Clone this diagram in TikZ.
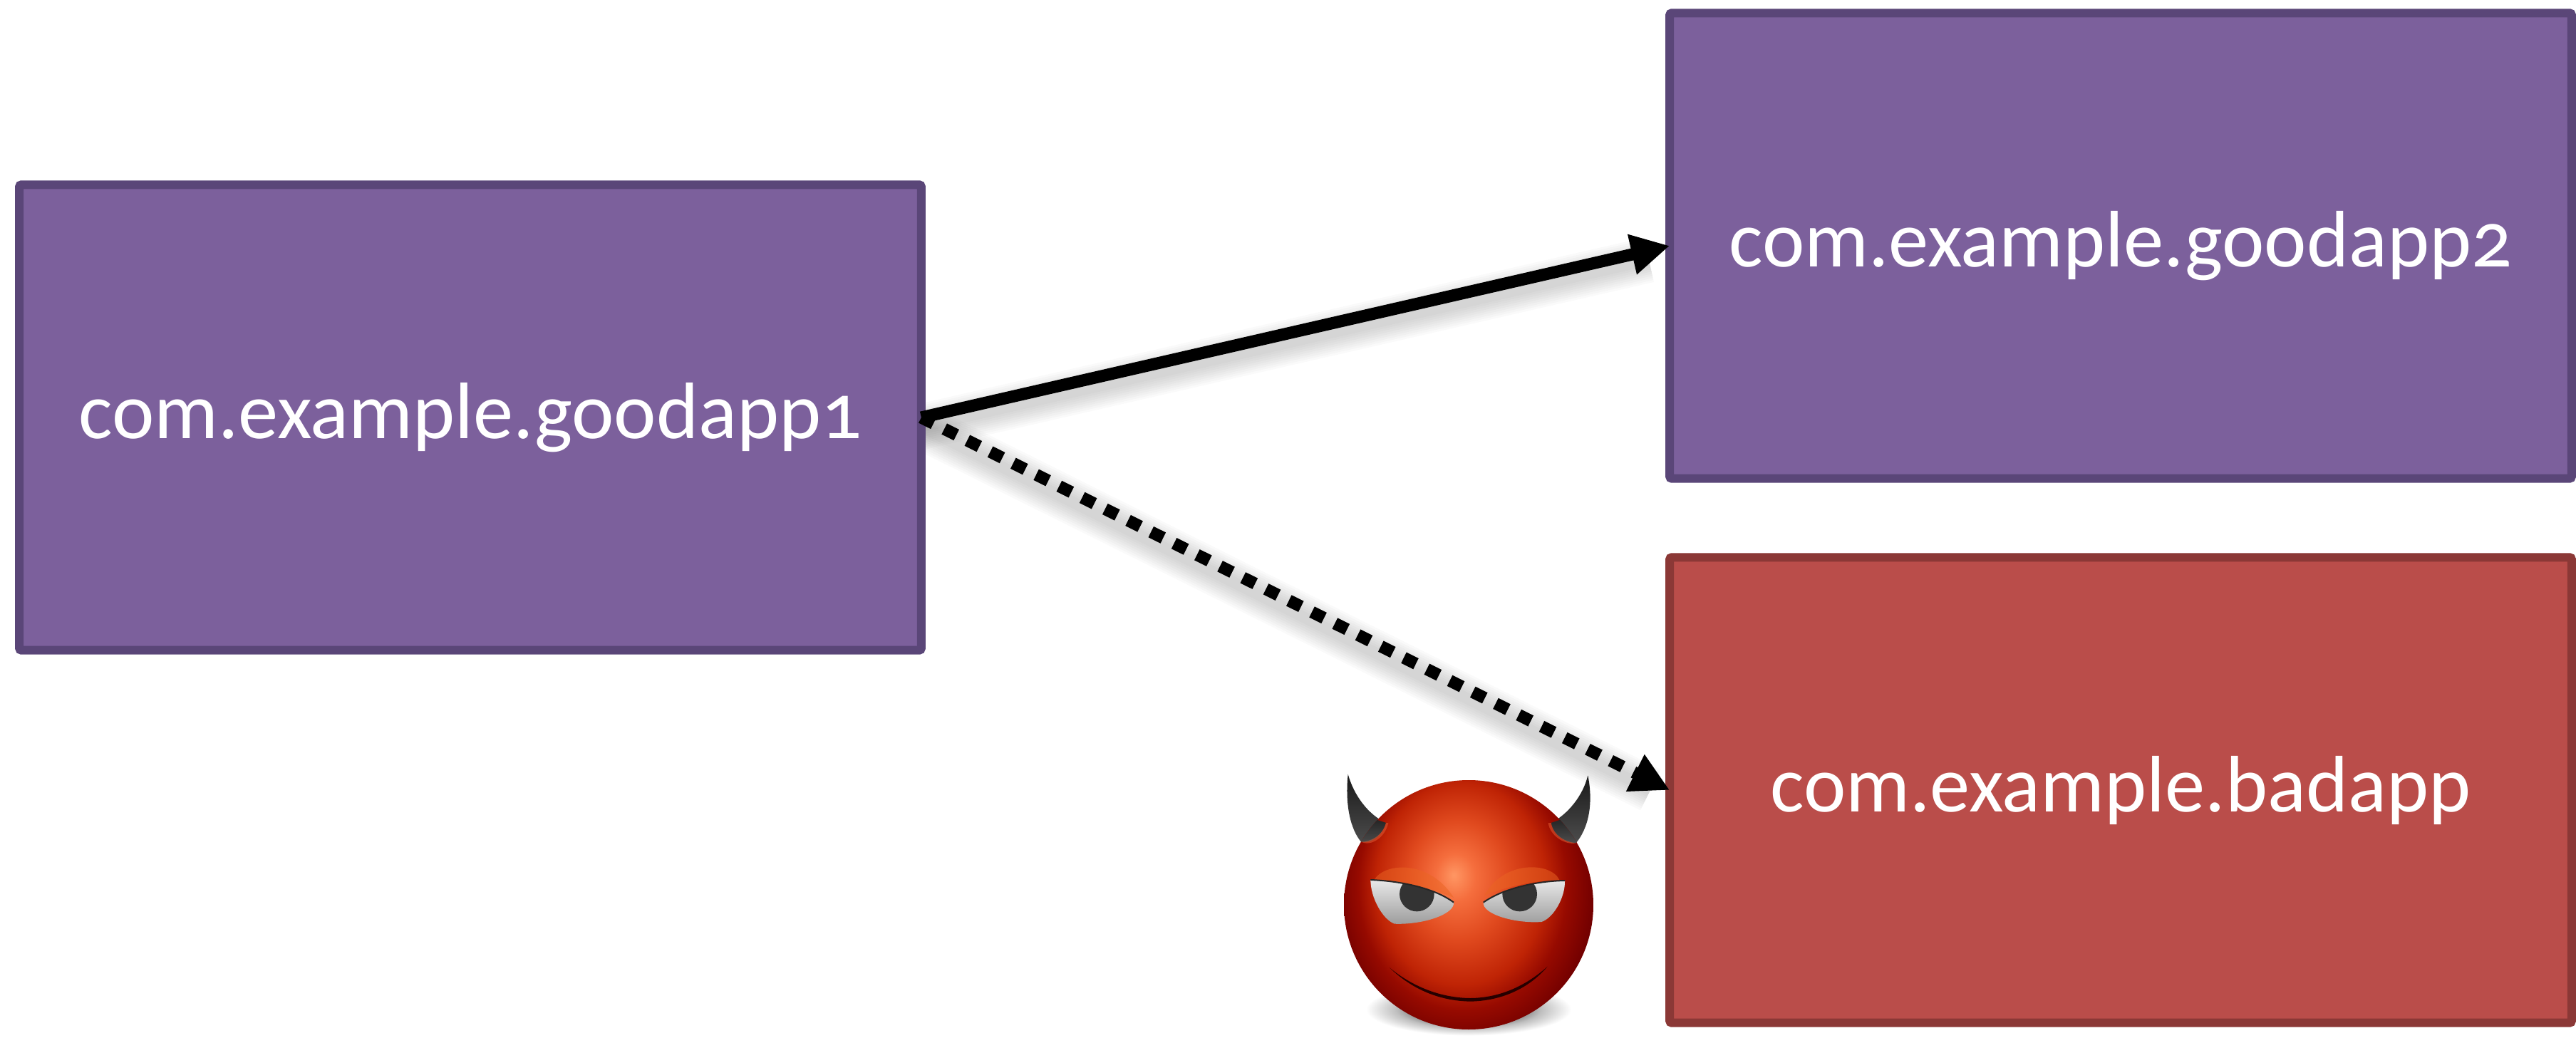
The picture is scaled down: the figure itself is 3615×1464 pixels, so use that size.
\documentclass[tikz,border=0pt]{standalone}
\usepackage{fontspec}
\setmainfont[Numbers=OldStyle]{Carlito}
\usetikzlibrary{positioning}
\usetikzlibrary{arrows.meta}
\usetikzlibrary{backgrounds}
\definecolor{goodfill}{RGB}{124,96,156}
\definecolor{gooddraw}{RGB}{90,70,120}
\definecolor{badfill}{RGB}{186,77,74}
\definecolor{baddraw}{RGB}{139,56,54}
\definecolor{hornrim}{RGB}{225,90,50}
\pgfdeclareradialshading{devilface}{\pgfpoint{-3bp}{3bp}}{
  rgb(0bp)=(1,0.59,0.39);
  rgb(4bp)=(0.96,0.43,0.24);
  rgb(10bp)=(0.88,0.29,0.12);
  rgb(17bp)=(0.75,0.14,0.02);
  rgb(21bp)=(0.59,0.04,0);
  rgb(26bp)=(0.45,0,0);
  rgb(35bp)=(0.35,0,0)}
\pgfdeclareradialshading{devilground}{\pgfpointorigin}{
  color(0bp)=(black!80);
  color(10bp)=(black!65);
  color(17bp)=(black!25);
  color(24bp)=(white);
  color(70bp)=(white)}
\begin{document}
\begin{tikzpicture}[x=0.01cm,y=-0.01cm,
                    appnode/.style={rectangle, draw, line width=0.12cm, outer sep=0pt, rounded corners=0.03cm, text=white, font=\fontsize{32}{32}\selectfont, minimum width=12.65cm, minimum height=6.53cm},
                    goodnode/.style={appnode, fill=goodfill, draw=gooddraw},
                    badnode/.style={appnode, fill=badfill, draw=baddraw},
                    callshadow/.style={draw=black, opacity=0.02, shorten >=0.3cm},
                    call/.style={line width=0.17cm, -{Triangle[length=0.54cm,width=0.54cm]}},
                    badcall/.style={call, dash pattern=on 0.19cm off 0.17cm},
                    horn/.style={top color=black!90, bottom color=black!70},
                    eye/.style={top color=white!92!black, bottom color=black!40},
                ]
    \useasboundingbox (0,0) rectangle (3615,1464);
    %Nodes
    \node[goodnode] (goodapp1) at (660,586) {com.example.goodapp1};
    \node[goodnode] (goodapp2) at (2976,345) {com.example.goodapp2};
    \node[badnode]  (badapp)   at (2976,1109) {com.example.badapp};

    %Shadows of the lines
    \begin{scope}[on background layer]
        \foreach \w in {0.16,0.22,0.28,0.34,0.40,0.46,0.52,0.58,0.64}{
            \draw[callshadow, line width=\w cm, transform canvas={yshift=-0.13cm}] (goodapp1.east) -- (goodapp2.west);
            \draw[callshadow, line width=\w cm, transform canvas={yshift=-0.13cm}] (goodapp1.east) -- (badapp.west);
        }
    \end{scope}

    %Lines
    \draw[call] (goodapp1.east) -- (goodapp2.west);
    \draw[badcall] (goodapp1.east) -- (badapp.west);

    %Devil
    \begin{scope}[shift={(1800,1040)}, x=0.01cm/3, y=-0.01cm/3]
        \shade[shading=devilground] (783,1130) ellipse (450 and 115);
        \shade[horn] (275,140) .. controls (262,270) and (285,370) .. (330,425) .. controls (370,435) and (420,400) .. (435,345) .. controls (360,310) and (300,230) .. (275,140) -- cycle;
        \shade[horn] (1285,145) .. controls (1310,270) and (1285,370) .. (1235,430) .. controls (1190,430) and (1140,400) .. (1130,345) .. controls (1200,310) and (1265,230) .. (1285,145) -- cycle;
        \begin{scope}
            \clip (783,690) circle (525);
            \shade[shading=devilface] (258,15) rectangle (1308,1265);
            \shade[horn] (330,425) .. controls (370,435) and (420,400) .. (435,345) -- (300,300) -- cycle;
            \shade[horn] (1235,430) .. controls (1190,430) and (1140,400) .. (1130,345) -- (1265,300) -- cycle;
            \fill[hornrim, opacity=0.55] (330,425) .. controls (370,445) and (430,410) .. (445,345) -- (435,345) .. controls (420,400) and (370,425) .. (330,425) -- cycle;
            \fill[hornrim, opacity=0.55] (1235,430) .. controls (1190,440) and (1125,400) .. (1118,345) -- (1130,345) .. controls (1140,400) and (1190,425) .. (1235,430) -- cycle;
        \end{scope}
        %Brows
        \fill[hornrim!70!orange, opacity=0.5] (385,585) .. controls (430,510) and (620,500) .. (720,660) .. controls (600,610) and (480,590) .. (385,585) -- cycle;
        \fill[hornrim!70!orange, opacity=0.5] (1165,585) .. controls (1130,510) and (930,500) .. (850,650) .. controls (950,610) and (1060,590) .. (1165,585) -- cycle;
        %Eyes
        \begin{scope}
            \clip (370,585) .. controls (500,590) and (640,620) .. (720,680) .. controls (725,730) and (590,775) .. (470,770) .. controls (420,750) and (370,660) .. (370,585) -- cycle;
            \shade[eye] (360,580) rectangle (730,780);
            \fill[black!80] (565,645) circle (73);
        \end{scope}
        \begin{scope}
            \clip (1188,588) .. controls (1070,590) and (930,620) .. (845,680) .. controls (840,730) and (980,770) .. (1090,762) .. controls (1140,745) and (1190,660) .. (1188,588) -- cycle;
            \shade[eye] (835,580) rectangle (1195,780);
            \fill[black!80] (998,645) circle (73);
        \end{scope}
        \draw[black!85, line width=0.02cm] (370,585) .. controls (500,590) and (640,620) .. (720,680);
        \draw[black!85, line width=0.02cm] (1188,588) .. controls (1070,590) and (930,620) .. (845,680);
        %Smile
        \fill[black!85!red] (450,955) .. controls (560,1060) and (680,1095) .. (790,1097) .. controls (910,1095) and (1030,1050) .. (1115,950) .. controls (1020,1035) and (910,1082) .. (790,1083) .. controls (680,1082) and (560,1045) .. (450,955) -- cycle;
    \end{scope}
\end{tikzpicture}
\end{document}
